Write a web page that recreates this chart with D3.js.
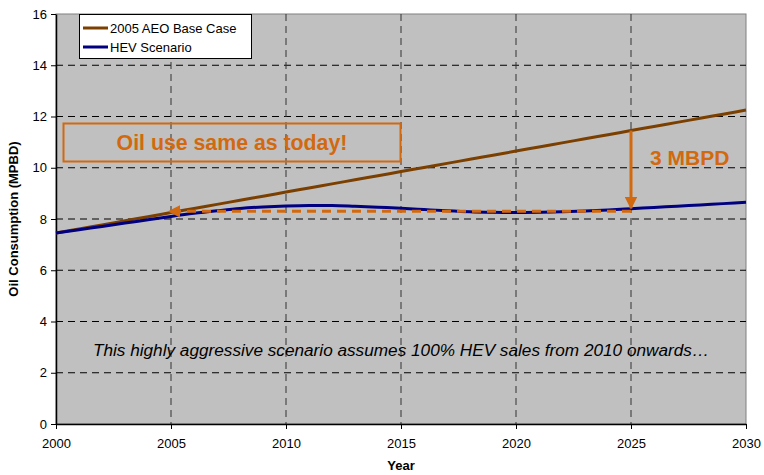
<!DOCTYPE html>
<html><head><meta charset="utf-8">
<script src="https://cdn.jsdelivr.net/npm/d3@7"></script>
<style>body{margin:0;background:#fff;} svg{display:block;font-family:"Liberation Sans",Arial,sans-serif;}</style>
</head><body>
<script>
const years = d3.range(2000, 2031);
const baseCase = [7.45,7.61,7.77,7.93,8.09,8.25,8.41,8.57,8.73,8.89,9.05,9.21,9.37,9.53,9.69,9.85,10.01,10.17,10.33,10.49,10.65,10.81,10.97,11.13,11.29,11.45,11.61,11.77,11.93,12.09,12.25];
const hevScenario = [7.45,7.58,7.71,7.84,7.97,8.1,8.22,8.32,8.41,8.47,8.51,8.53,8.53,8.5,8.46,8.42,8.37,8.32,8.28,8.26,8.25,8.26,8.28,8.31,8.35,8.4,8.45,8.5,8.55,8.6,8.65];
const yTicks = [0,2,4,6,8,10,12,14,16];
const xTicks = [2000,2005,2010,2015,2020,2025,2030];
const seriesNames = ["2005 AEO Base Case","HEV Scenario"];
const seriesColors = ["#7B3F00","#000080"];
const sameLevel = 8.3;
const annotationText = "Oil use same as today!";
const gapText = "3 MBPD";
const noteText = "This highly aggressive scenario assumes 100% HEV sales from 2010 onwards\u2026";

const W=764,H=475;
const m={l:56,r:18,t:14,b:51};
const orange="#D2690E";
const svg=d3.select("body").append("svg").attr("width",W).attr("height",H);
const x=d3.scaleLinear().domain([2000,2030]).range([m.l,W-m.r]);
const y=d3.scaleLinear().domain([0,16]).range([H-m.b,m.t]);

svg.append("defs").html(`<marker id="ah" viewBox="0 0 10 10" refX="9" refY="5" markerWidth="4.2" markerHeight="4.2" orient="auto-start-reverse"><path d="M0,0L10,5L0,10z" fill="${orange}"/></marker>`);

svg.append("rect").attr("x",m.l).attr("y",m.t).attr("width",x(2030)-m.l).attr("height",y(0)-m.t).attr("fill","#C0C0C0").attr("stroke","#808080");

// grid
svg.append("g").selectAll("line").data(yTicks.filter(d=>d>0&&d<16)).join("line")
 .attr("x1",m.l).attr("x2",x(2030)).attr("y1",d=>y(d)).attr("y2",d=>y(d))
 .attr("stroke","#000").attr("stroke-dasharray","7,5").attr("stroke-width",1);
svg.append("g").selectAll("line").data(xTicks.filter(d=>d>2000&&d<2030)).join("line")
 .attr("y1",m.t).attr("y2",y(0)).attr("x1",d=>x(d)).attr("x2",d=>x(d))
 .attr("stroke","#333").attr("stroke-dasharray","7,5").attr("stroke-width",1);

// axes
const ya=svg.append("g").attr("transform",`translate(${m.l},0)`).call(d3.axisLeft(y).tickValues(yTicks).tickSize(5).tickSizeOuter(0));
const xa=svg.append("g").attr("transform",`translate(0,${y(0)})`).call(d3.axisBottom(x).tickValues(xTicks).tickFormat(d3.format("d")).tickSize(5).tickSizeOuter(0));
[ya,xa].forEach(a=>{a.selectAll("text").attr("font-size",13).attr("fill","#000").attr("font-family","Liberation Sans, Arial, sans-serif");a.select(".domain").attr("stroke","#000").attr("stroke-width",1.5);a.selectAll(".tick line").attr("stroke","#000");});
ya.selectAll("text").attr("x",-9);
xa.selectAll("text").attr("y",15);

svg.append("text").attr("x",(m.l+x(2030))/2).attr("y",470).attr("text-anchor","middle").attr("font-weight","bold").attr("font-size",13).text("Year");
svg.append("text").attr("transform",`translate(18,${(m.t+y(0))/2}) rotate(-90)`).attr("text-anchor","middle").attr("font-weight","bold").attr("font-size",13).text("Oil Consumption (MPBD)");

// lines
const line=d3.line().x((d,i)=>x(years[i])).y(d=>y(d)).curve(d3.curveMonotoneX);
[baseCase,hevScenario].forEach((s,i)=>svg.append("path").datum(s).attr("d",line).attr("fill","none").attr("stroke",seriesColors[i]).attr("stroke-width",3));

// dashed same-level arrow
svg.append("line").attr("x1",x(2025)).attr("x2",x(2005)-2).attr("y1",y(sameLevel)).attr("y2",y(sameLevel))
 .attr("stroke",orange).attr("stroke-width",3).attr("stroke-dasharray","9,6").attr("marker-end","url(#ah)");
// vertical arrow
svg.append("line").attr("x1",x(2025)).attr("x2",x(2025)).attr("y1",y(baseCase[25])).attr("y2",y(8.42))
 .attr("stroke",orange).attr("stroke-width",3).attr("marker-end","url(#ah)");
svg.append("text").attr("x",650).attr("y",165).attr("fill",orange).attr("font-weight","bold").attr("font-size",21).text(gapText);

// annotation box
svg.append("rect").attr("x",63.5).attr("y",123.5).attr("width",337).attr("height",38).attr("fill","none").attr("stroke",orange).attr("stroke-width",2);
svg.append("text").attr("x",232).attr("y",150).attr("text-anchor","middle").attr("fill",orange).attr("font-weight","bold").attr("font-size",21.3).text(annotationText);

// note
svg.append("text").attr("x",401).attr("y",356).attr("text-anchor","middle").attr("font-style","italic").attr("font-size",17.2).text(noteText);

// legend
const lg=svg.append("g");
lg.append("rect").attr("x",79.5).attr("y",14.5).attr("width",172).attr("height",44).attr("fill","#fff").attr("stroke","#000");
seriesNames.forEach((n,i)=>{
 const yy=28+i*19;
 lg.append("line").attr("x1",83).attr("x2",108).attr("y1",yy).attr("y2",yy).attr("stroke",seriesColors[i]).attr("stroke-width",3);
 lg.append("text").attr("x",110).attr("y",yy+5).attr("font-size",13).text(n);
});
</script>
</body></html>
